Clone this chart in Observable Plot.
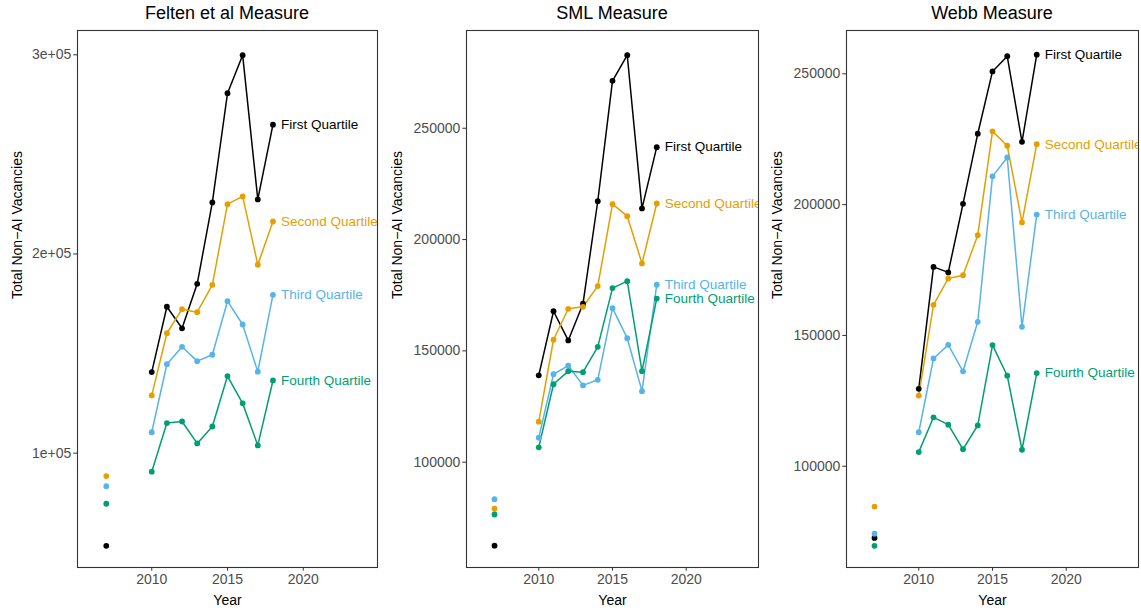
<!DOCTYPE html>
<html>
<head>
<meta charset="utf-8">
<script src="https://cdn.jsdelivr.net/npm/d3@7"></script>
<script src="https://cdn.jsdelivr.net/npm/@observablehq/plot@0.6"></script>
<style>
  html, body { margin: 0; padding: 0; background: #ffffff; }
  #chart { position: relative; width: 1141px; height: 611px; background: #ffffff;
           font-family: "Liberation Sans", Arial, Helvetica, sans-serif; }
  .panel { position: absolute; top: 0; height: 611px; }
  .panel-title { position: absolute; top: 0; height: 26px; line-height: 26px; text-align: center;
                 font-size: 18px; color: #000; white-space: nowrap; }
  .panel svg { position: absolute; top: 26px; left: 0; }
</style>
</head>
<body>
<div id="chart"></div>
<script>
// Years observed; 2008 and 2009 are missing, so the lines break after 2007
const years = [2007, 2008, 2009, 2010, 2011, 2012, 2013, 2014, 2015, 2016, 2017, 2018];
const quartiles = ["First Quartile", "Second Quartile", "Third Quartile", "Fourth Quartile"];
const quartileColors = ["#000000", "#E69F00", "#56B4E9", "#009E73"];
const yearTicks = [2010, 2015, 2020];

// Felten et al measure: total non-AI vacancies by exposure quartile
const feltenFirst  = [53500, null, null, 140700, 173500, 162700, 185000, 225900, 280700, 299800, 227400, 264900];
const feltenSecond = [88500, null, null, 129000, 160200, 172300, 170800, 184500, 225000, 228900, 194600, 216300];
const feltenThird  = [83400, null, null, 110500, 144700, 153400, 146200, 149400, 176300, 164600, 140900, 179500];
const feltenFourth = [74600, null, null,  90700, 115100, 115900, 104900, 113400, 138700, 125000, 103900, 136500];
const feltenTicks  = [100000, 200000, 300000];

// SML measure
const smlFirst  = [62500, null, null, 139000, 167800, 154700, 171200, 217200, 271300, 282800, 214000, 241500];
const smlSecond = [79100, null, null, 118200, 155000, 168900, 169800, 179100, 215900, 210500, 189300, 216200];
const smlThird  = [83400, null, null, 111000, 139500, 143400, 134500, 137000, 169200, 155700, 131900, 179700];
const smlFourth = [76500, null, null, 106700, 135000, 140900, 140400, 151800, 178200, 181300, 140900, 173500];
const smlTicks  = [100000, 150000, 200000, 250000];

// Webb measure
const webbFirst  = [72600, null, null, 129600, 176200, 174100, 200300, 227100, 250900, 256700, 224000, 257300];
const webbSecond = [84600, null, null, 127000, 161700, 171800, 173000, 188300, 228000, 222500, 193200, 223100];
const webbThird  = [74200, null, null, 113000, 141200, 146400, 136300, 155200, 210800, 218000, 153300, 196200];
const webbFourth = [69600, null, null, 105400, 118700, 115900, 106500, 115600, 146300, 134600, 106300, 135600];
const webbTicks  = [100000, 150000, 200000, 250000];

const yTitle = "Total Non\u2212AI Vacancies";
const xTitle = "Year";

// "3e+05" style labels for the first panel
const sciFormat = v => v.toExponential(0).replace(/e\+(\d)$/, "e+0$1");
const plainFormat = d3.format("d");

const panels = [
  {title: "Felten et al Measure", left: 0,   width: 380, marginLeft: 77, marginRight: 3,
   series: [feltenFirst, feltenSecond, feltenThird, feltenFourth],
   yDomain: [42600, 312200], yTicks: feltenTicks, yFormat: sciFormat},
  {title: "SML Measure",          left: 380, width: 380, marginLeft: 86, marginRight: 2,
   series: [smlFirst, smlSecond, smlThird, smlFourth],
   yDomain: [52700, 293900], yTicks: smlTicks, yFormat: plainFormat},
  {title: "Webb Measure",         left: 760, width: 381, marginLeft: 86, marginRight: 3,
   series: [webbFirst, webbSecond, webbThird, webbFourth],
   yDomain: [61300, 266550], yTicks: webbTicks, yFormat: plainFormat}
];

const chart = document.getElementById("chart");
const svgHeight = 585, marginTop = 4, marginBottom = 44;
const font = "'Liberation Sans', Arial, Helvetica, sans-serif";

for (const p of panels) {
  const rows = quartiles.flatMap((q, qi) =>
    years.map((yr, i) => ({year: yr, value: p.series[qi][i], quartile: q})));
  const lastYear = years[years.length - 1];
  const endRows = rows.filter(d => d.year === lastYear && d.value != null);

  const plot = Plot.plot({
    width: p.width,
    height: svgHeight,
    marginTop, marginBottom,
    marginLeft: p.marginLeft,
    marginRight: p.marginRight,
    style: {fontFamily: font, background: "transparent", overflow: "visible"},
    x: {domain: [2005.1, 2024.9]},
    y: {domain: p.yDomain},
    color: {domain: quartiles, range: quartileColors},
    marks: [
      Plot.axisX({ticks: yearTicks, tickFormat: "d", tickSize: 3.7, tickPadding: 2.5,
                  fontSize: 14, stroke: "#333333", fill: "#4d4d4d", label: null}),
      Plot.axisY({ticks: p.yTicks, tickFormat: p.yFormat, tickSize: 3.7, tickPadding: 2.5,
                  fontSize: 14, stroke: "#333333", fill: "#4d4d4d", label: null}),
      Plot.line(rows, {x: "year", y: "value", z: "quartile", stroke: "quartile", strokeWidth: 1.5}),
      Plot.dot(rows, {x: "year", y: "value", fill: "quartile", r: 2.9}),
      Plot.text(endRows, {x: "year", y: "value", text: "quartile", fill: "quartile",
                          dx: 8, textAnchor: "start", fontSize: 13.5, clip: "frame"}),
      Plot.frame({stroke: "#333333", strokeWidth: 1.1}),
      Plot.text([yTitle], {frameAnchor: "left", rotate: -90, dx: -(p.marginLeft - 17.5),
                           fontSize: 14, fill: "#000000"}),
      Plot.text([xTitle], {frameAnchor: "bottom", dy: 37, fontSize: 14, fill: "#000000"})
    ]
  });

  const panel = document.createElement("div");
  panel.className = "panel";
  panel.style.left = p.left + "px";
  panel.style.width = p.width + "px";

  const title = document.createElement("div");
  title.className = "panel-title";
  title.textContent = p.title;
  title.style.left = p.marginLeft + "px";
  title.style.width = (p.width - p.marginLeft - p.marginRight) + "px";

  panel.appendChild(title);
  panel.appendChild(plot);
  chart.appendChild(panel);
}
</script>
</body>
</html>
